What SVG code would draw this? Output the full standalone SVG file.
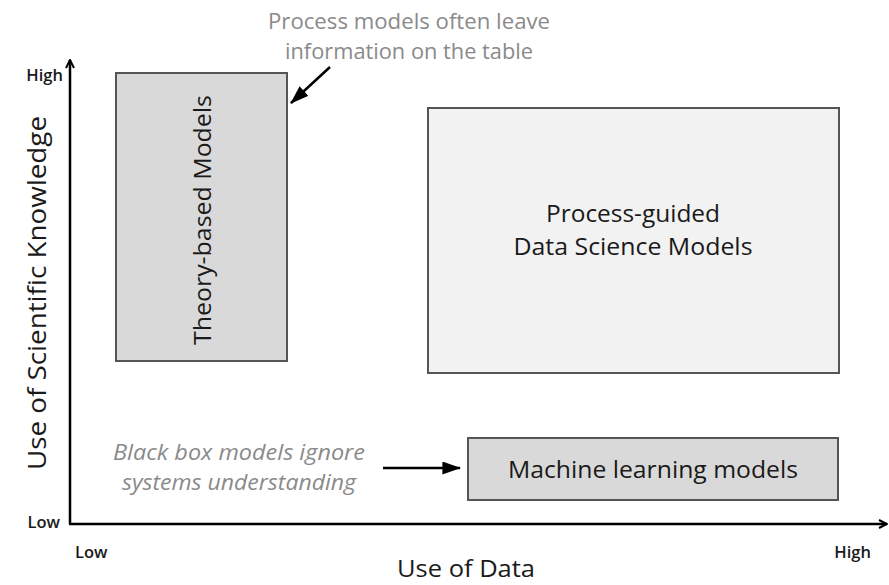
<svg xmlns="http://www.w3.org/2000/svg" width="889" height="585" viewBox="0 0 889 585">
<style>
text{font-family:"Open Sans","Noto Sans",sans-serif;fill:#1a1a1a;font-weight:500}
.box{stroke:#555;stroke-width:2}
.note{fill:#8a8a8a;font-weight:400}
.ax{font-size:16.5px;font-weight:600}
</style>
<defs>
<marker id="ah" viewBox="0 0 20 14" refX="19" refY="7" markerWidth="19" markerHeight="13" orient="auto" markerUnits="userSpaceOnUse"><path d="M0,0L20,7L0,14z" fill="#000"/></marker>
<marker id="axh" viewBox="0 0 10 10" refX="9" refY="5" markerWidth="4" markerHeight="4" orient="auto" markerUnits="strokeWidth"><path d="M1,1L9,5L1,9" fill="none" stroke="#000" stroke-width="2"/></marker>
</defs>
<rect width="889" height="585" fill="#fff"/>
<g id="connectors" stroke="#000" stroke-width="2.5" fill="none">
<path d="M70,524V60" marker-end="url(#axh)"/>
<path d="M69,524H887" marker-end="url(#axh)"/>
<path d="M330,67L291,103" marker-end="url(#ah)"/>
<path d="M383,468H460" marker-end="url(#ah)"/>
</g>
<g id="theory"><rect class="box" x="116" y="73" width="171" height="288" fill="#d9d9d9"/>
<text transform="translate(211,220) rotate(-90)" text-anchor="middle" font-size="23" textLength="250" lengthAdjust="spacingAndGlyphs">Theory-based Models</text></g>
<g id="pgds"><rect class="box" x="428" y="108" width="411" height="265" fill="#f2f2f2"/>
<text x="633" y="222" text-anchor="middle" font-size="24" textLength="174" lengthAdjust="spacingAndGlyphs">Process-guided</text>
<text x="633" y="255" text-anchor="middle" font-size="24" textLength="239" lengthAdjust="spacingAndGlyphs">Data Science Models</text></g>
<g id="ml"><rect class="box" x="468" y="438" width="370" height="62" fill="#d9d9d9"/>
<text x="653" y="478" text-anchor="middle" font-size="24" textLength="290" lengthAdjust="spacingAndGlyphs">Machine learning models</text></g>
<g id="labels">
<text class="note" x="409" y="29" text-anchor="middle" font-size="22" textLength="282" lengthAdjust="spacingAndGlyphs">Process models often leave</text>
<text class="note" x="409" y="59" text-anchor="middle" font-size="22" textLength="248" lengthAdjust="spacingAndGlyphs">information on the table</text>
<text class="note" x="239" y="460" text-anchor="middle" font-size="21" font-style="italic" textLength="252" lengthAdjust="spacingAndGlyphs">Black box models ignore</text>
<text class="note" x="239" y="490" text-anchor="middle" font-size="21" font-style="italic" textLength="234" lengthAdjust="spacingAndGlyphs">systems understanding</text>
<text class="ax" x="63" y="81" text-anchor="end">High</text>
<text class="ax" x="60" y="528" text-anchor="end">Low</text>
<text class="ax" x="75" y="558">Low</text>
<text class="ax" x="871" y="558" text-anchor="end">High</text>
<text x="466" y="577" text-anchor="middle" font-size="24" textLength="138" lengthAdjust="spacingAndGlyphs">Use of Data</text>
<text transform="translate(46,293) rotate(-90)" text-anchor="middle" font-size="25" textLength="354" lengthAdjust="spacingAndGlyphs">Use of Scientific Knowledge</text>
</g>
</svg>
